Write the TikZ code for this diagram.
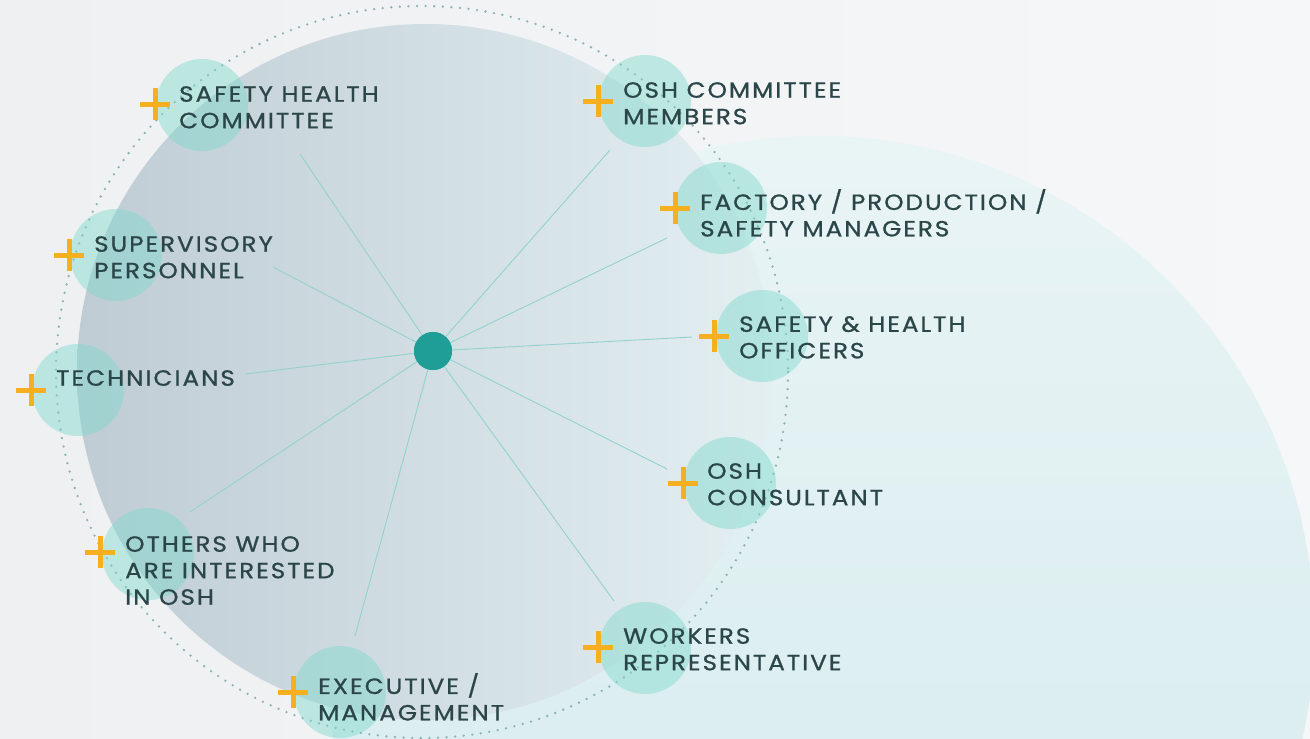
\documentclass[tikz,border=0pt]{standalone}
\usepackage{fontspec}
\setmainfont{Poppins}
\newfontfamily\labelfamily[LetterSpace=9, FakeBold=0.9, FakeStretch=1.12]{Poppins}
\usetikzlibrary{shapes.geometric}
\definecolor{bgcol}{HTML}{F5F7F8}
\definecolor{bgleft}{HTML}{EEF0F1}
\definecolor{tealbig}{HTML}{D3EAED}
\definecolor{tealbigtop}{HTML}{E9F4F5}
\definecolor{grayD}{HTML}{BFCCD4}
\definecolor{grayM}{HTML}{D2DCE1}
\definecolor{grayR}{HTML}{E3EFF1}
\definecolor{dotcol}{HTML}{8DB3B0}
\definecolor{bubblecol}{HTML}{7ED9CC}
\definecolor{hubcol}{HTML}{1E9E96}
\definecolor{spokecol}{HTML}{93D2CD}
\definecolor{pluscol}{HTML}{F5AF1F}
\definecolor{txtcol}{HTML}{2B4649}
\tikzset{
  bubble/.style={circle, fill=bubblecol, fill opacity=0.45, draw=none, minimum size=92pt, inner sep=0pt},
  hubnode/.style={circle, fill=hubcol, draw=none, minimum size=38pt, inner sep=0pt},
  spoke/.style={draw=spokecol, line width=0.9pt},
  plusmark/.style={draw=pluscol, line width=5pt},
  lbl/.style={anchor=north west, inner sep=0pt, align=left, text=txtcol,
    font={\labelfamily\fontsize{22}{26.5}\selectfont}},
  dotring/.style={draw=dotcol, line width=2.6pt, line cap=round, dash pattern=on 0pt off 8.6pt}
}
\newcommand{\plusat}[2]{\draw[plusmark] (#1-15,#2) -- (#1+15,#2) (#1,#2-16) -- (#1,#2+16);}
\begin{document}
\begin{tikzpicture}[x=1pt,y=-1pt]
\useasboundingbox (0,0) rectangle (1310,739);
% background
\shade[left color=bgleft, right color=bgcol] (0,0) rectangle (1310,739);
\begin{scope}
\clip (0,0) rectangle (1310,739);
% big teal circle on the right
\shade[top color=tealbigtop, bottom color=tealbig] (818,632) circle (496);
% large gray circle, blending into the teal towards the right
\shade[left color=grayD, middle color=grayM, right color=grayR] (425,372) circle (348);
\end{scope}
% dotted ring
\draw[dotring] (422,372) circle (366);
% hub
\node[hubnode] (hub) at (433,351) {};
% spoke ends
\coordinate (e1) at (300,154);
\coordinate (e2) at (610,150);
\coordinate (e3) at (667,238);
\coordinate (e4) at (692,337);
\coordinate (e5) at (667,469);
\coordinate (e6) at (614,601);
\coordinate (e7) at (355,636);
\coordinate (e8) at (190,512);
\coordinate (e9) at (245,374);
\coordinate (e10) at (273,267);
\foreach \i in {1,...,10} {\draw[spoke] (hub) -- (e\i);}
\node[hubnode] at (hub) {};
% bubbles
\node[bubble] (b1) at (202,105) {};
\node[bubble] (b2) at (645,101) {};
\node[bubble] (b3) at (721,208) {};
\node[bubble] (b4) at (762,336) {};
\node[bubble] (b5) at (730,483) {};
\node[bubble] (b6) at (645,648) {};
\node[bubble] (b7) at (340,692) {};
\node[bubble] (b8) at (148,554) {};
\node[bubble] (b9) at (78,390) {};
\node[bubble] (b10) at (116,255) {};
% plus marks
\plusat{155}{104}
\plusat{598}{101}
\plusat{675}{208}
\plusat{714}{336}
\plusat{683}{483}
\plusat{598}{647}
\plusat{293}{692}
\plusat{100}{552}
\plusat{31}{390}
\plusat{69}{255}
% labels
\node[lbl] (t1) at (179,86) {SAFETY HEALTH\\COMMITTEE};
\node[lbl] (t2) at (623,82) {OSH COMMITTEE\\MEMBERS};
\node[lbl] (t3) at (700,189) {FACTORY / PRODUCTION /\\SAFETY MANAGERS};
\node[lbl] (t4) at (739,316) {SAFETY \& HEALTH\\OFFICERS};
\node[lbl] (t5) at (707,463) {OSH\\CONSULTANT};
\node[lbl] (t6) at (623,628) {WORKERS\\REPRESENTATIVE};
\node[lbl] (t7) at (318,673) {EXECUTIVE /\\MANAGEMENT};
\node[lbl] (t8) at (125,536) {OTHERS WHO\\ARE INTERESTED\\IN OSH};
\node[lbl] (t9) at (56,370) {TECHNICIANS};
\node[lbl] (t10) at (94,236) {SUPERVISORY\\PERSONNEL};
\end{tikzpicture}
\end{document}
